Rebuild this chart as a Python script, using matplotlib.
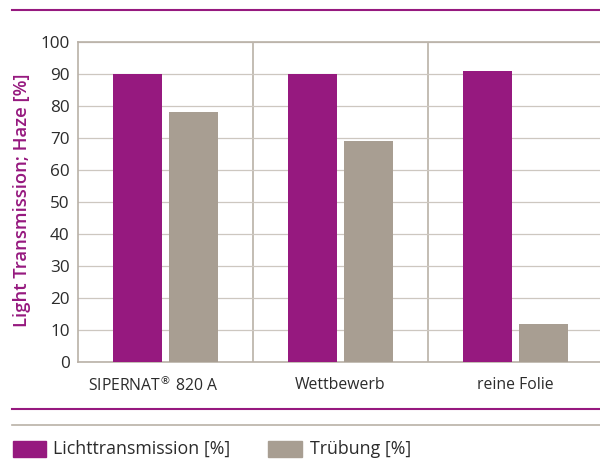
import numpy as np
import matplotlib.pyplot as plt
from matplotlib.patches import Rectangle
from matplotlib.lines import Line2D

plt.rcParams['font.family'] = ['Open Sans', 'DejaVu Sans']

# data
categories = [r'SIPERNAT$^{\circledR}$ 820 A', 'Wettbewerb', 'reine Folie']
light_transmission = [90, 90, 91]
haze = [78, 69, 12]
series_labels = ['Lichttransmission [%]', 'Trübung [%]']
y_ticks = [0, 10, 20, 30, 40, 50, 60, 70, 80, 90, 100]
label_shift = [-12, 0, 0]   # px, the first label sits left of its group

MAGENTA = '#96197f'
TAUPE = '#a89e92'
GRID = '#b9b1a7'
GRID_LIGHT = '#cdc7c0'
TEXT = '#2b2b2b'

fig = plt.figure(figsize=(6.0, 4.63), dpi=100)
ax = fig.add_axes([0.13, 0.2181, 0.875, 0.6911])

x = np.arange(len(categories))
w = 0.28
ax.bar(x - 0.16, light_transmission, w, color=MAGENTA, zorder=3)
ax.bar(x + 0.16, haze, w, color=TAUPE, zorder=3)

ax.set_xlim(-0.5, 2.5)
ax.set_ylim(0, 100)
ax.set_yticks(y_ticks)
ax.set_xticks(x)
ax.set_xticklabels([])
ax.tick_params(axis='y', labelsize=12.3, labelcolor=TEXT, length=0, pad=6)
ax.tick_params(axis='x', length=0)

for xi, cat, dx in zip(x, categories, label_shift):
    ax.annotate(cat, xy=(xi, 0), xycoords=('data', 'axes fraction'),
                xytext=(dx * 0.72, -16.5), textcoords='offset points',
                ha='center', va='center', fontsize=11.3, color=TEXT)

ax.yaxis.grid(True, color=GRID_LIGHT, linewidth=0.9, zorder=0)
for xs in [0.5, 1.5]:
    ax.axvline(xs, color=GRID, linewidth=1.2, zorder=1)

for side in ['left', 'top', 'bottom']:
    ax.spines[side].set_color(GRID)
    ax.spines[side].set_linewidth(1.2)
ax.spines['right'].set_visible(False)

fig.text(0.037, 0.568, 'Light Transmission; Haze [%]', rotation=90,
         color=MAGENTA, fontsize=13.3, fontweight='semibold',
         ha='center', va='center')

# decorative rules
fig.add_artist(Line2D([0.02, 1.0], [1 - 10 / 463] * 2, color=MAGENTA, linewidth=1.5))
fig.add_artist(Line2D([0.02, 1.0], [1 - 409 / 463] * 2, color=MAGENTA, linewidth=1.5))
fig.add_artist(Line2D([0.02, 1.0], [1 - 425 / 463] * 2, color=GRID, linewidth=1.2))

# legend
fig.add_artist(Rectangle((13 / 600, 1 - 457 / 463), 33 / 600, 16 / 463,
                         color=MAGENTA, transform=fig.transFigure))
fig.text(53 / 600, 1 - 449 / 463, series_labels[0], fontsize=12.8,
         color=TEXT, va='center')
fig.add_artist(Rectangle((268 / 600, 1 - 457 / 463), 34 / 600, 16 / 463,
                         color=TAUPE, transform=fig.transFigure))
fig.text(310 / 600, 1 - 449 / 463, series_labels[1], fontsize=12.8,
         color=TEXT, va='center')

fig.savefig('out.png', dpi=100)
